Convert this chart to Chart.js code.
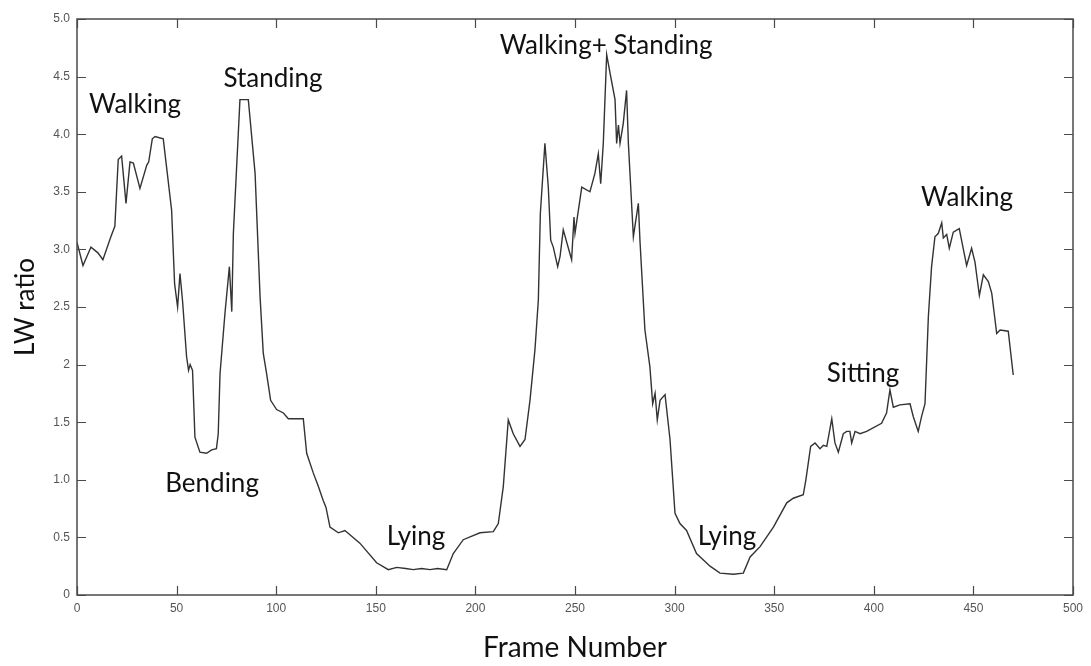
<!DOCTYPE html>
<html>
<head>
<meta charset="utf-8">
<script src="https://cdn.jsdelivr.net/npm/chart.js@4.4.1/dist/chart.umd.min.js"></script>
<style>
  html, body { margin: 0; padding: 0; background: #fff; }
  #wrap { width: 1091px; height: 666px; position: relative; }
</style>
</head>
<body>
<div id="wrap"><canvas id="lw-chart"></canvas></div>
<script>
// Frame numbers and LW ratio
const frames = [0, 3, 7, 10.5, 13, 17, 19, 20.7, 22.4, 24.6, 26.6, 28.3, 31.6, 35, 36, 37.8, 39.2, 43.3, 47.5,
  49, 50.5, 51.7, 53, 55, 56, 56.8, 58, 59.2, 61.7, 65, 67.6, 70, 70.9, 71.8, 74.3, 76.5, 77.7, 78.5, 81.8, 86,
  89.4, 91.9, 93.5, 95.2, 97.2, 100.2, 103.6, 106.1, 113.6, 115.3, 118.6, 121, 123.6, 125, 127, 131.2, 134.5, 142, 150.4,
  156.3, 160.5, 165, 168.8, 173, 177.2, 181, 185.6, 188.9, 193.9, 202.3, 209, 211.5, 214, 216.5, 219, 222.4,
  224.9, 227.4, 229.9, 231.6, 232.6, 234.9, 236.6, 237.8, 239.1, 241.3, 242.5, 244.1, 248.3, 249.5, 250, 253.4,
  257.5, 260, 261.7, 262.9, 264.2, 265.9, 267.6, 270.1, 270.9, 271.8, 272.6, 274.2, 275.9, 276.8, 279.3, 281.8,
  282.6, 285.1, 287.6, 289, 290.2, 291.3, 292.7, 295.2, 297.7, 300.2, 302.7, 306, 311, 317.8, 322.8, 329.5,
  334.5, 337.9, 342.9, 349.6, 356.3, 359.6, 364.6, 365.9, 368.3, 370.5, 373, 374.7, 376.4, 378.9, 380.5, 382.2,
  384.7, 386.4, 388, 388.9, 390.6, 393.1, 396.4, 403.9, 406.4, 408.1, 409.8, 413.1, 418.2, 419.8, 422.3, 424,
  425.7, 427.4, 429, 430.7, 432.4, 434.1, 434.9, 436.6, 437.9, 439.9, 442.9, 446.6, 449.1, 450.8, 453, 455,
  457.5, 459.2, 461.7, 463.4, 467.5, 470];
const lwRatio = [3.06, 2.86, 3.02, 2.97, 2.91, 3.11, 3.2, 3.78, 3.81, 3.4, 3.76, 3.75, 3.53, 3.73, 3.76, 3.96,
  3.98, 3.96, 3.34, 2.7, 2.5, 2.79, 2.55, 2.07, 1.95, 2.0, 1.95, 1.37, 1.24, 1.23, 1.26, 1.27, 1.4, 1.92, 2.45,
  2.85, 2.46, 3.14, 4.3, 4.3, 3.66, 2.59, 2.1, 1.92, 1.69, 1.61, 1.58, 1.53, 1.53, 1.23, 1.06, 0.95, 0.82, 0.76, 0.59, 0.54,
  0.56, 0.45, 0.28, 0.22, 0.24, 0.23, 0.22, 0.23, 0.22, 0.23, 0.22, 0.36, 0.48, 0.54, 0.55, 0.62, 0.94, 1.52,
  1.4, 1.29, 1.35, 1.69, 2.13, 2.56, 3.31, 3.92, 3.54, 3.08, 3.02, 2.85, 2.94, 3.17, 2.91, 3.28, 3.14, 3.54, 3.5,
  3.66, 3.83, 3.57, 3.92, 4.69, 4.53, 4.3, 3.92, 4.08, 3.92, 4.09, 4.38, 3.92, 3.11, 3.4, 3.08, 2.3, 1.98, 1.66,
  1.75, 1.52, 1.69, 1.74, 1.35, 0.71, 0.62, 0.56, 0.36, 0.25, 0.19, 0.18, 0.19, 0.33, 0.42, 0.59, 0.8, 0.84,
  0.87, 1.0, 1.29, 1.32, 1.27, 1.3, 1.29, 1.53, 1.32, 1.24, 1.4, 1.42, 1.42, 1.32, 1.42, 1.4, 1.42, 1.49, 1.58,
  1.78, 1.63, 1.65, 1.66, 1.55, 1.42, 1.55, 1.66, 2.42, 2.85, 3.11, 3.14, 3.23, 3.1, 3.13, 3.01, 3.15, 3.18,
  2.86, 3.01, 2.89, 2.6, 2.78, 2.72, 2.62, 2.27, 2.3, 2.29, 1.91];

const xTicks = [0, 50, 100, 150, 200, 250, 300, 350, 400, 450, 500];
const yTicks = [0, 0.5, 1, 1.5, 2, 2.5, 3, 3.5, 4, 4.5, 5];
const yTickLabels = ['0', '0.5', '1.0', '1.5', '2', '2.5', '3.0', '3.5', '4.0', '4.5', '5.0'];

// activity labels placed in data coordinates
const activityText = ['Walking', 'Standing', 'Bending', 'Lying', 'Walking+ Standing', 'Lying', 'Sitting', 'Walking'];
const activityX = [29.1, 98.4, 67.8, 170.2, 265.6, 326.3, 394.6, 446.8];
const activityY = [4.26, 4.48, 0.97, 0.51, 4.77, 0.51, 1.92, 3.45];

const AXIS_COLOR = '#4a4a4a';
const TICK_FONT = { family: 'Liberation Sans, Arial, sans-serif', size: 12 };

// frame box with inward ticks on all four sides
const frameBox = {
  id: 'frameBox',
  afterDraw(chart) {
    const { ctx, chartArea: a, scales } = chart;
    ctx.save();
    ctx.strokeStyle = AXIS_COLOR;
    ctx.lineWidth = 1.5;
    ctx.strokeRect(a.left, a.top, a.right - a.left, a.bottom - a.top);
    ctx.lineWidth = 1.2;
    const len = 9;
    ctx.beginPath();
    xTicks.forEach(v => {
      const px = Math.round(scales.x.getPixelForValue(v)) + 0.5;
      ctx.moveTo(px, a.bottom); ctx.lineTo(px, a.bottom - len);
      ctx.moveTo(px, a.top); ctx.lineTo(px, a.top + len);
    });
    yTicks.forEach(v => {
      const py = Math.round(scales.y.getPixelForValue(v)) + 0.5;
      ctx.moveTo(a.left, py); ctx.lineTo(a.left + len, py);
      ctx.moveTo(a.right, py); ctx.lineTo(a.right - len, py);
    });
    ctx.stroke();
    ctx.restore();
  }
};

const activityLabels = {
  id: 'activityLabels',
  afterDatasetsDraw(chart) {
    const { ctx, scales } = chart;
    ctx.save();
    ctx.fillStyle = '#111';
    ctx.font = '26px Lato, "Open Sans", sans-serif';
    ctx.textAlign = 'center';
    ctx.textBaseline = 'middle';
    activityText.forEach((t, i) => {
      ctx.fillText(t, scales.x.getPixelForValue(activityX[i]), scales.y.getPixelForValue(activityY[i]));
    });
    ctx.restore();
  }
};

const ctx = document.getElementById('lw-chart').getContext('2d');
new Chart(ctx, {
  type: 'line',
  data: {
    labels: frames,
    datasets: [{
      label: 'LW ratio',
      data: frames.map((f, i) => ({ x: f, y: lwRatio[i] })),
      borderColor: '#333',
      borderWidth: 1.4,
      pointRadius: 0,
      tension: 0,
      fill: false
    }]
  },
  options: {
    responsive: true,
    maintainAspectRatio: false,
    animation: false,
    layout: { padding: { left: 0, top: 19, right: 18, bottom: 0 } },
    plugins: { legend: { display: false }, tooltip: { enabled: false } },
    scales: {
      x: {
        type: 'linear',
        min: 0,
        max: 500,
        afterFit(scale) { scale.height = 71; },
        afterBuildTicks(scale) { scale.ticks = xTicks.map(v => ({ value: v })); },
        grid: { display: false, drawTicks: false },
        border: { display: false },
        ticks: { color: '#555', font: TICK_FONT, padding: 6, maxRotation: 0 },
        title: {
          display: true,
          text: 'Frame Number',
          color: '#111',
          font: { family: 'Lato, "Open Sans", sans-serif', size: 28 },
          padding: { top: 0, bottom: 1 }
        }
      },
      y: {
        min: 0,
        max: 5,
        afterFit(scale) { scale.width = 77; },
        afterBuildTicks(scale) { scale.ticks = yTicks.map(v => ({ value: v })); },
        grid: { display: false, drawTicks: false },
        border: { display: false },
        ticks: {
          color: '#555',
          font: TICK_FONT,
          padding: 7,
          callback: function(value) {
            const i = yTicks.indexOf(value);
            return i >= 0 ? yTickLabels[i] : '';
          }
        },
        title: {
          display: true,
          text: 'LW ratio',
          color: '#111',
          font: { family: 'Lato, "Open Sans", sans-serif', size: 26 },
          padding: { top: 10, bottom: 0 }
        }
      }
    }
  },
  plugins: [frameBox, activityLabels]
});
</script>
</body>
</html>
